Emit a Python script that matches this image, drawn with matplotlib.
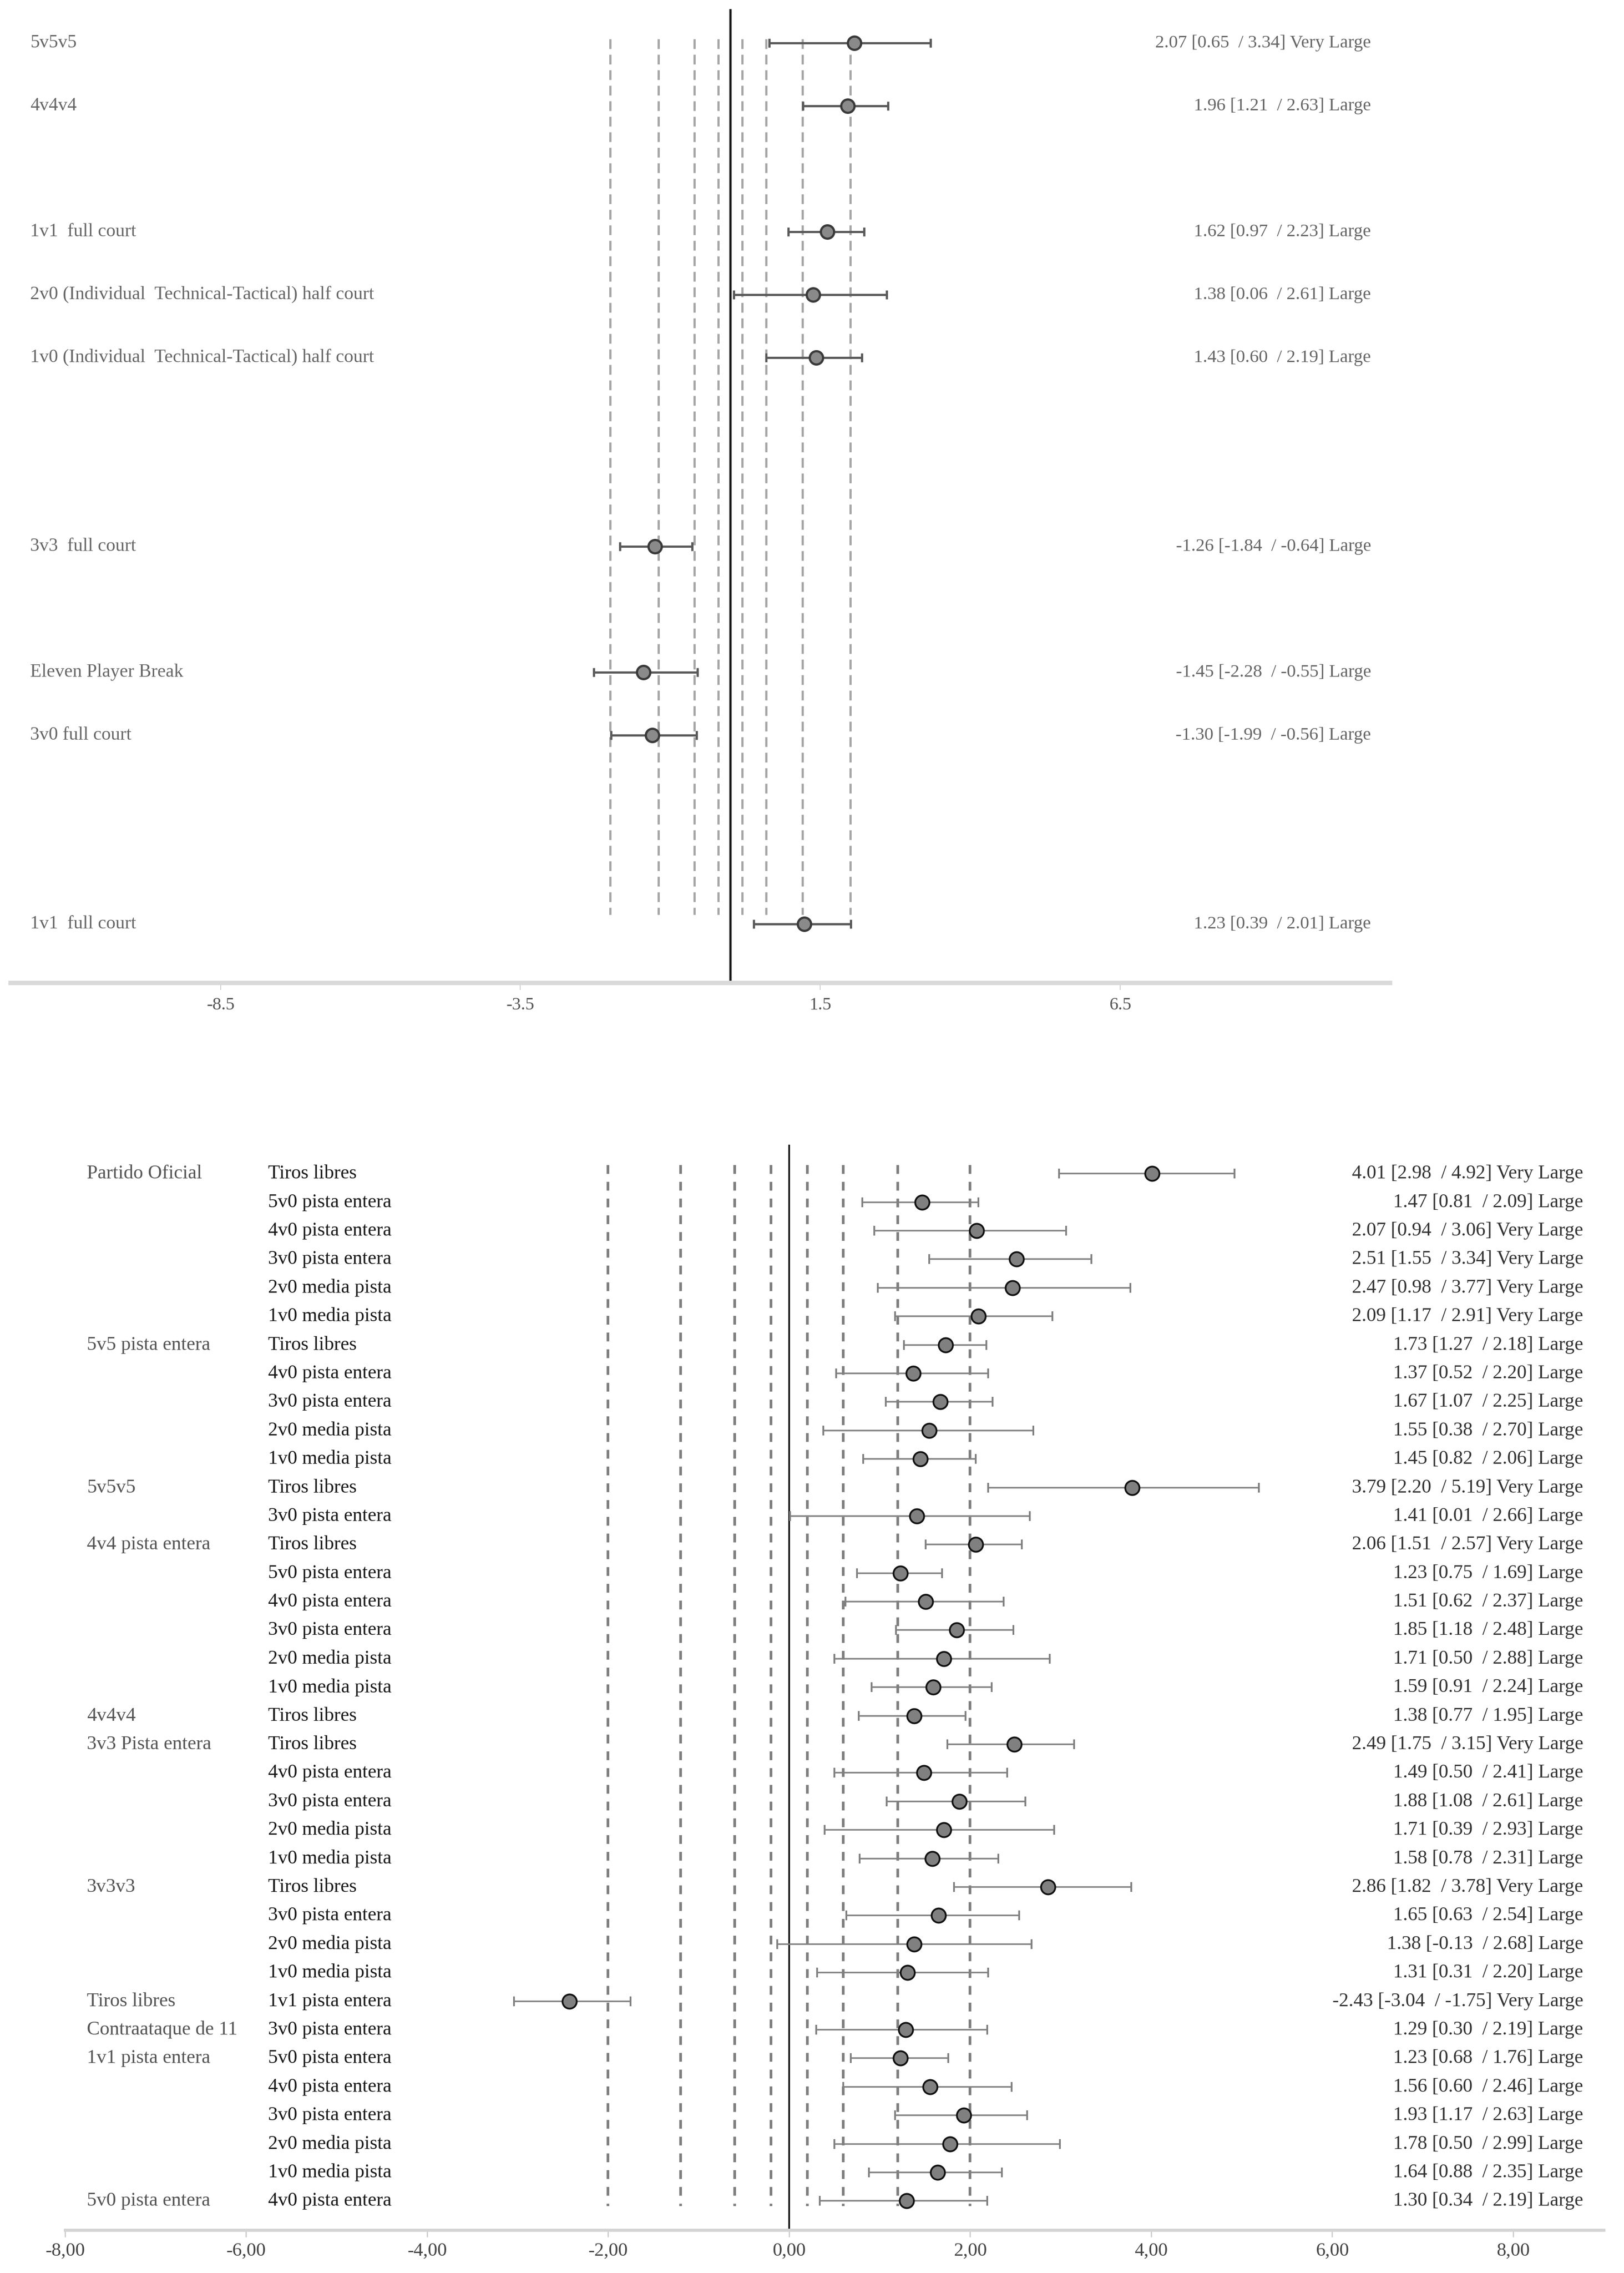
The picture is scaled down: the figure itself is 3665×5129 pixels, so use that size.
import matplotlib
matplotlib.use('Agg')
import matplotlib.pyplot as plt
import matplotlib.transforms as mtransforms

plt.rcParams['font.family'] = ['Liberation Serif', 'DejaVu Serif']

W, H = 3666, 5129
PX = 0.72  # points per pixel at dpi 100

# ---- top panel data ----
top_labels = ["5v5v5", "4v4v4", "1v1  full court",
              "2v0 (Individual  Technical-Tactical) half court",
              "1v0 (Individual  Technical-Tactical) half court",
              "3v3  full court", "Eleven Player Break", "3v0 full court",
              "1v1  full court"]
top_rows = [0, 1, 3, 4, 5, 8, 10, 11, 14]
top_est = [2.07, 1.96, 1.62, 1.38, 1.43, -1.26, -1.45, -1.30, 1.23]
top_lo = [0.65, 1.21, 0.97, 0.06, 0.60, -1.84, -2.28, -1.99, 0.39]
top_hi = [3.34, 2.63, 2.23, 2.61, 2.19, -0.64, -0.55, -0.56, 2.01]
top_size = ["Very Large", "Large", "Large", "Large", "Large",
            "Large", "Large", "Large", "Large"]
top_ticks = [-8.5, -3.5, 1.5, 6.5]

# ---- bottom panel data ----
group_labels = ["Partido Oficial", "", "", "", "", "",
                "5v5 pista entera", "", "", "", "",
                "5v5v5", "",
                "4v4 pista entera", "", "", "", "", "",
                "4v4v4",
                "3v3 Pista entera", "", "", "", "",
                "3v3v3", "", "", "",
                "Tiros libres",
                "Contraataque de 11",
                "1v1 pista entera", "", "", "", "",
                "5v0 pista entera"]
sub_labels = ["Tiros libres", "5v0 pista entera", "4v0 pista entera", "3v0 pista entera",
              "2v0 media pista", "1v0 media pista",
              "Tiros libres", "4v0 pista entera", "3v0 pista entera", "2v0 media pista",
              "1v0 media pista",
              "Tiros libres", "3v0 pista entera",
              "Tiros libres", "5v0 pista entera", "4v0 pista entera", "3v0 pista entera",
              "2v0 media pista", "1v0 media pista",
              "Tiros libres",
              "Tiros libres", "4v0 pista entera", "3v0 pista entera", "2v0 media pista",
              "1v0 media pista",
              "Tiros libres", "3v0 pista entera", "2v0 media pista", "1v0 media pista",
              "1v1 pista entera",
              "3v0 pista entera",
              "5v0 pista entera", "4v0 pista entera", "3v0 pista entera", "2v0 media pista",
              "1v0 media pista",
              "4v0 pista entera"]
est = [4.01, 1.47, 2.07, 2.51, 2.47, 2.09,
       1.73, 1.37, 1.67, 1.55, 1.45,
       3.79, 1.41,
       2.06, 1.23, 1.51, 1.85, 1.71, 1.59,
       1.38,
       2.49, 1.49, 1.88, 1.71, 1.58,
       2.86, 1.65, 1.38, 1.31,
       -2.43,
       1.29,
       1.23, 1.56, 1.93, 1.78, 1.64,
       1.30]
lo = [2.98, 0.81, 0.94, 1.55, 0.98, 1.17,
      1.27, 0.52, 1.07, 0.38, 0.82,
      2.20, 0.01,
      1.51, 0.75, 0.62, 1.18, 0.50, 0.91,
      0.77,
      1.75, 0.50, 1.08, 0.39, 0.78,
      1.82, 0.63, -0.13, 0.31,
      -3.04,
      0.30,
      0.68, 0.60, 1.17, 0.50, 0.88,
      0.34]
hi = [4.92, 2.09, 3.06, 3.34, 3.77, 2.91,
      2.18, 2.20, 2.25, 2.70, 2.06,
      5.19, 2.66,
      2.57, 1.69, 2.37, 2.48, 2.88, 2.24,
      1.95,
      3.15, 2.41, 2.61, 2.93, 2.31,
      3.78, 2.54, 2.68, 2.20,
      -1.75,
      2.19,
      1.76, 2.46, 2.63, 2.99, 2.35,
      2.19]
size = ["Very Large", "Large", "Very Large", "Very Large", "Very Large", "Very Large",
        "Large", "Large", "Large", "Large", "Large",
        "Very Large", "Large",
        "Very Large", "Large", "Large", "Large", "Large", "Large",
        "Large",
        "Very Large", "Large", "Large", "Large", "Large",
        "Very Large", "Large", "Large", "Large",
        "Very Large",
        "Large",
        "Large", "Large", "Large", "Large", "Large",
        "Large"]
bottom_ticks = [-8, -6, -4, -2, 0, 2, 4, 6, 8]

thresholds = [-2.0, -1.2, -0.6, -0.2, 0.2, 0.6, 1.2, 2.0]

fig = plt.figure(figsize=(W / 100, H / 100), dpi=100)

# ================= top panel =================
ax1 = fig.add_axes([24 / W, 1 - 2218 / H, (3137 - 24) / W, 2218 / H])
ax1.set_xlim(-12, 11)
ax1.set_ylim(14.937, -0.683)
for s in ['top', 'left', 'right']:
    ax1.spines[s].set_visible(False)
ax1.spines['bottom'].set_color('#d9d9d9')
ax1.spines['bottom'].set_linewidth(10 * PX)
ax1.set_yticks([])
ax1.set_xticks(top_ticks)
ax1.set_xticklabels([str(t) for t in top_ticks])
ax1.tick_params(axis='x', length=16 * PX, width=2 * PX, color='#cfcfcf',
                labelsize=40 * PX, labelcolor='#555555', pad=16 * PX)

ax1.vlines(thresholds, -0.06, 13.85, colors='#a6a6a6', lw=5 * PX,
           linestyles=(0, (4.4, 2.6)), zorder=1)
ax1.vlines(0, -0.54, 14.937, colors='#1a1a1a', lw=5 * PX, zorder=2)

xe = [[e - l for e, l in zip(top_est, top_lo)], [h - e for e, h in zip(top_est, top_hi)]]
ax1.errorbar(top_est, top_rows, xerr=xe, fmt='o', color='#5a5a5a', ecolor='#5a5a5a',
             elinewidth=5 * PX, capsize=10 * PX, capthick=5 * PX,
             markersize=30 * PX, markerfacecolor='#8a8a8a', markeredgecolor='#3a3a3a',
             markeredgewidth=5 * PX, zorder=3)

tr1 = mtransforms.blended_transform_factory(fig.transFigure, ax1.transData)
for r, lab, e, l, h, s in zip(top_rows, top_labels, top_est, top_lo, top_hi, top_size):
    ax1.text(68 / W, r, lab, transform=tr1, ha='left', va='center',
             fontsize=42 * PX, color='#666666')
    ax1.text(3094 / W, r, f"{e:.2f} [{l:.2f}  / {h:.2f}] {s}", transform=tr1,
             ha='right', va='center', fontsize=41 * PX, color='#666666')

# ================= bottom panel =================
rows = list(range(len(est)))
ax2 = fig.add_axes([147 / W, 1 - 5032 / H, (3619 - 147) / W, (5032 - 2560) / H])
ax2.set_xlim(-8, 9)
ax2.set_ylim(37.02, -1.37)
for s in ['top', 'left', 'right']:
    ax2.spines[s].set_visible(False)
ax2.spines['bottom'].set_color('#d4d4d4')
ax2.spines['bottom'].set_linewidth(7 * PX)
ax2.set_yticks([])
ax2.set_xticks(bottom_ticks)
ax2.set_xticklabels([f"{t:.2f}".replace('.', ',') for t in bottom_ticks])
ax2.tick_params(axis='x', length=16 * PX, width=3 * PX, color='#cfcfcf',
                labelsize=43 * PX, labelcolor='#444444', pad=12 * PX)

ax2.vlines(thresholds, -0.3, 36.18, colors='#7f7f7f', lw=6 * PX,
           linestyles=(0, (3.3, 3.0)), zorder=1)
ax2.vlines(0, -1.01, 37.02, colors='#1a1a1a', lw=4 * PX, zorder=2)

xe2 = [[e - l for e, l in zip(est, lo)], [h - e for e, h in zip(est, hi)]]
ax2.errorbar(est, rows, xerr=xe2, fmt='o', color='#808080', ecolor='#808080',
             elinewidth=3.5 * PX, capsize=11 * PX, capthick=3.5 * PX,
             markersize=32 * PX, markerfacecolor='#808080', markeredgecolor='#111111',
             markeredgewidth=4 * PX, zorder=3)

tr2 = mtransforms.blended_transform_factory(fig.transFigure, ax2.transData)
for r in rows:
    if group_labels[r]:
        ax2.text(196 / W, r, group_labels[r], transform=tr2, ha='left', va='center',
                 fontsize=44 * PX, color='#555555')
    ax2.text(605 / W, r, sub_labels[r], transform=tr2, ha='left', va='center',
             fontsize=44 * PX, color='#1a1a1a')
    ax2.text(3573 / W, r, f"{est[r]:.2f} [{lo[r]:.2f}  / {hi[r]:.2f}] {size[r]}",
             transform=tr2, ha='right', va='center', fontsize=44 * PX, color='#333333')

fig.savefig('out.png', dpi=100, facecolor='white')
